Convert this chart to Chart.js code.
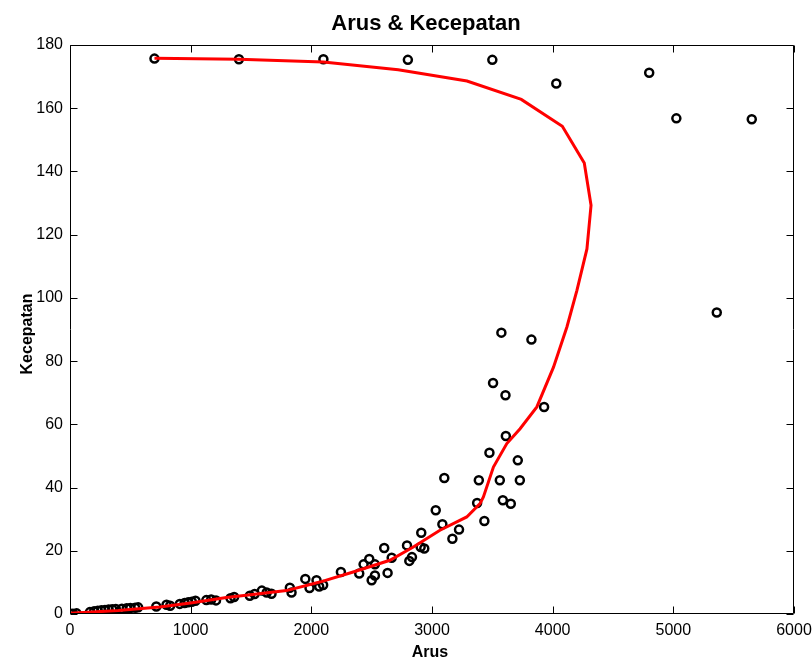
<!DOCTYPE html>
<html><head><meta charset="utf-8">
<script src="https://cdn.jsdelivr.net/npm/chart.js@4"></script>
<style>html,body{margin:0;padding:0;background:#fff;overflow:hidden}</style>
</head><body>
<canvas id="c" width="812" height="659"></canvas>
<script>
const arus = [10,25,55,165,200,230,260,290,320,350,380,430,470,500,540,565,715,800,830,910,950,980,1010,1040,1130,1170,1210,1330,1360,1490,1530,1590,1630,1670,1822,1836,1950,1985,2043,2065,2098,2245,
  2397,2433,2480,2500,2527,2527,2604,2632,2666,2793,2812,2834,2906,2936,2911,3031,3086,3102,3169,3224,3374,3388,3434,3476,3506,3562,3575,3587,3609,3612,3653,3711,3728,3824,3929,
  700,1400,2100,2800,3500,4030,4800,5025,5650,5360];
const kecepatan = [0,0.1,0.2,0.6,0.9,1.0,1.2,1.3,1.4,1.5,1.6,1.7,1.8,1.9,2.0,2.1,2.4,2.9,2.6,3.2,3.5,3.7,3.9,4.2,4.4,4.6,4.3,5.0,5.4,5.8,6.3,7.4,6.8,6.4,8.3,6.8,11.1,8.2,10.7,8.7,9.2,13.3,
  12.8,15.7,17.4,10.7,15.7,12.2,20.9,13.0,17.8,21.7,16.8,18.0,21.2,20.7,25.7,32.8,28.4,43.0,23.8,26.7,35.1,42.3,29.4,51.0,73.1,42.3,89.0,36.0,69.2,56.3,34.9,48.6,42.3,86.8,65.5,
  175.7,175.5,175.5,175.3,175.3,167.8,171.2,156.8,156.5,95.4];
const modelArus = [700,1400,2100,2720,3290,3740,4080,4262,4318,4284,4201,4118,4007,3869,3730,3620,3509,3426,3398,3288,3066,2845,2651,2347,2070,1794,1550,1296,1000,743,400,0];
const modelKecepatan = [175.8,175.5,174.6,172.2,168.6,162.8,154.3,142.7,129.3,115.5,102.4,90.8,78.1,65.5,58.6,53.9,46.5,37.0,34.9,30.7,26.5,21.2,17.0,13.3,10.1,7.4,6.3,5.2,3.5,2.2,1.1,0.2];
const xTicks = [0,1000,2000,3000,4000,5000,6000];
const yTicks = [0,20,40,60,80,100,120,140,160,180];
const titleText = 'Arus & Kecepatan';
const xLabel = 'Arus';
const yLabel = 'Kecepatan';

const FONT = '"Liberation Sans", Arial, Helvetica, sans-serif';

const framePlugin = {
  id: 'frame',
  afterDraw(chart) {
    const ctx = chart.ctx, a = chart.chartArea;
    const xs = chart.scales.x, ys = chart.scales.y;
    const L = Math.round(a.left) + 0.5, R = Math.round(a.right) - 0.5;
    const T = Math.round(a.top) + 0.5, B = Math.round(a.bottom) - 0.5;
    ctx.save();
    ctx.strokeStyle = '#000';
    ctx.lineWidth = 1;
    ctx.beginPath();
    ctx.rect(L, T, R - L, B - T);
    const tl = 7;
    xTicks.forEach(v => {
      const px = Math.round(xs.getPixelForValue(v)) + 0.5;
      ctx.moveTo(px, B); ctx.lineTo(px, B - tl);
      ctx.moveTo(px, T); ctx.lineTo(px, T + tl);
    });
    yTicks.forEach(v => {
      const py = Math.round(ys.getPixelForValue(v)) + 0.5;
      ctx.moveTo(L, py); ctx.lineTo(L + tl, py);
      ctx.moveTo(R, py); ctx.lineTo(R - tl, py);
    });
    ctx.stroke();
    ctx.fillStyle = '#000';
    ctx.textAlign = 'center';
    ctx.textBaseline = 'alphabetic';
    ctx.font = 'bold 22px ' + FONT;
    ctx.fillText(titleText, (a.left + a.right) / 2 - 6, 30);
    ctx.font = 'bold 16px ' + FONT;
    ctx.fillText(xLabel, (a.left + a.right) / 2 - 2, 657);
    ctx.save();
    ctx.translate(32, 334);
    ctx.rotate(-Math.PI / 2);
    ctx.fillText(yLabel, 0, 0);
    ctx.restore();
    ctx.restore();
  }
};

new Chart(document.getElementById('c'), {
  type: 'scatter',
  data: {
    datasets: [
      {
        label: 'model',
        data: modelArus.map((x, i) => ({x, y: modelKecepatan[i]})),
        showLine: true,
        borderColor: '#ff0000',
        borderWidth: 3,
        pointRadius: 0,
        tension: 0,
        fill: false,
        order: 0
      },
      {
        label: 'data',
        data: arus.map((x, i) => ({x, y: kecepatan[i]})),
        pointStyle: 'circle',
        pointRadius: 4,
        borderWidth: 2.5,
        borderColor: '#000',
        backgroundColor: 'rgba(0,0,0,0)',
        order: 1
      }
    ]
  },
  options: {
    responsive: false,
    devicePixelRatio: 1,
    animation: false,
    events: [],
    layout: { padding: { left: 0, right: 18, top: 45, bottom: 0 } },
    plugins: { legend: { display: false }, tooltip: { enabled: false }, title: { display: false } },
    scales: {
      x: {
        type: 'linear', min: 0, max: 6000,
        afterBuildTicks: s => { s.ticks = xTicks.map(v => ({ value: v })); },
        afterFit: s => { s.height = 45; s.paddingLeft = 0; s.paddingRight = 0; },
        grid: { display: false, drawTicks: false }, border: { display: false },
        ticks: { color: '#000', font: { family: FONT, size: 16 }, padding: 7, maxRotation: 0, autoSkip: false, callback: v => String(v) }
      },
      y: {
        type: 'linear', min: 0, max: 180,
        afterBuildTicks: s => { s.ticks = yTicks.map(v => ({ value: v })); },
        afterFit: s => { s.width = 70; s.paddingTop = 0; s.paddingBottom = 0; },
        grid: { display: false, drawTicks: false }, border: { display: false },
        ticks: { color: '#000', font: { family: FONT, size: 16 }, padding: 7, autoSkip: false, callback: v => String(v) }
      }
    }
  },
  plugins: [framePlugin]
});
</script>
</body></html>
